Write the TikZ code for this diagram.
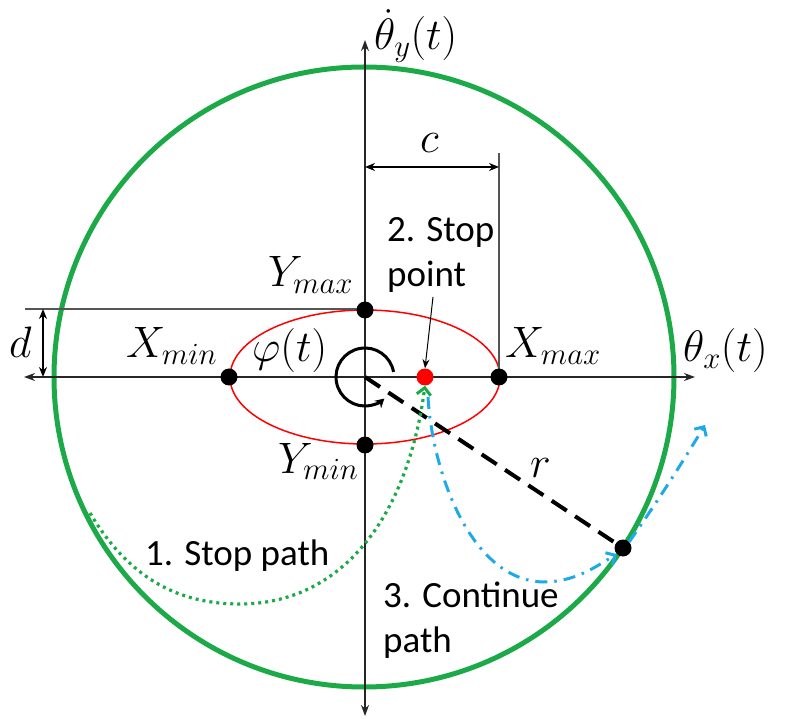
\RequirePackage{fix-cm}
\documentclass[tikz,border=0pt]{standalone}
\usepackage{fontspec}
\newfontfamily\lblfont{Carlito}
\usetikzlibrary{arrows.meta,calc}
\definecolor{cgreen}{RGB}{28,170,72}
\definecolor{cblue}{RGB}{30,170,230}
\definecolor{cgray}{RGB}{85,85,85}
\begin{document}
\begin{tikzpicture}[x=1pt,y=-1pt,
  axis/.style={draw=black!85, line width=1.6pt, {Stealth[length=11pt,width=8pt]}-{Stealth[length=11pt,width=8pt]}},
  guide/.style={draw=cgray, line width=1.6pt},
  dimarrow/.style={draw=black, line width=1.6pt, {Stealth[length=10pt,width=8pt]}-{Stealth[length=10pt,width=8pt]}},
  blackdot/.style={circle, fill=black, inner sep=0pt, minimum size=17pt},
  reddot/.style={circle, fill=red, inner sep=0pt, minimum size=17pt},
  mathlbl/.style={inner sep=0pt, anchor=base west, font=\fontsize{44}{50}\selectfont},
  txtlbl/.style={inner sep=0pt, anchor=base west, font=\lblfont\fontsize{37}{45}\selectfont},
  greenpath/.style={draw=cgreen, line width=3.2pt, dash pattern=on 3pt off 4pt, -{Straight Barb[length=7pt,width=14pt,line width=3pt]}},
  bluepath/.style={draw=cblue, line width=3pt, dash pattern=on 12pt off 7pt on 2.5pt off 7pt, -{Straight Barb[length=7pt,width=14pt,line width=3pt]}}
]
\useasboundingbox (0,0) rectangle (785,719);

% coordinates
\coordinate (O) at (365,377);
\coordinate (axL) at (24,377);
\coordinate (axR) at (695,377);
\coordinate (axT) at (365,40);
\coordinate (axB) at (365,716);

% green circle and red ellipse
\draw[cgreen, line width=5pt] (364,377) circle[radius=310pt];
\draw[red, line width=1.5pt] (O) ellipse[x radius=135pt, y radius=67pt];

% guide lines
\coordinate (dL) at (25,309);
\coordinate (cT) at (499,153);
\draw[guide] (dL) -- (365,309);
\draw[guide] (cT) -- (499,377);

% axes
\draw[axis] (axL) -- (axR);
\draw[axis] (axT) -- (axB);

% dimension arrows
\coordinate (dA) at (43,309);
\coordinate (dB) at (43,377);
\draw[dimarrow] (dA) -- (dB);
\coordinate (cA) at (365,167);
\coordinate (cB) at (499,167);
\draw[dimarrow] (cA) -- (cB);

% radius
\node[blackdot] (P) at (623,548) {};
\draw[black, line width=4pt, dash pattern=on 18pt off 10pt] (O) -- (P.center);

% phi arrow
\draw[black, line width=3pt, -{Stealth[length=9pt,width=10pt]}] ($(O)+(10:29pt)$) arc[start angle=10, end angle=312, radius=29pt];

% points
\node[blackdot] (xmin) at (229,377) {};
\node[blackdot] (xmax) at (499,377) {};
\node[blackdot] (ymax) at (365,310) {};
\node[blackdot] (ymin) at (365,445) {};
\node[reddot] (sp) at (425,377) {};

% paths
\coordinate (gs) at (90,513);
\coordinate (gm) at (240,604);
\draw[greenpath] (gs) .. controls (130,580) and (180,604) .. (gm) .. controls (340,604) and (407,520) .. (sp.south);
\coordinate (bs) at (428,397);
\coordinate (bm) at (543,582);
\draw[bluepath] (bs) .. controls (432,470) and (470,580) .. (bm) .. controls (575,582) and (595,567) .. (P.south west);
\coordinate (be) at (705,425);
\draw[bluepath] (P.north east) .. controls (660,498) and (685,458) .. (be);

% stop point arrow
\coordinate (sa) at (433,297);
\draw[black, line width=1pt, -{Stealth[length=9pt,width=7pt]}] (sa) -- (sp.north);

% math labels
\node[mathlbl] (lthy) at (374,50) {$\dot\theta_y(t)$};
\node[mathlbl] (lthx) at (683,362) {$\theta_x(t)$};
\node[mathlbl] (lxmin) at (126,358) {$X_{min}$};
\node[mathlbl] (lxmax) at (505,358) {$X_{max}$};
\node[mathlbl] (lymax) at (268,287) {$Y_{max}$};
\node[mathlbl] (lymin) at (278,473) {$Y_{min}$};
\node[mathlbl] (lphi) at (252,362) {$\varphi(t)$};
\node[mathlbl] (ld) at (9,358) {$d$};
\node[mathlbl] (lc) at (420,153) {$c$};
\node[mathlbl] (lr) at (530,477) {$r$};

% text labels
\node[txtlbl] (t2a) at (387,242) {2. Stop};
\node[txtlbl] (t2b) at (387,287) {point};
\node[txtlbl] (t1) at (145,565) {1. Stop path};
\node[txtlbl] (t3a) at (383,607) {3. Continue};
\node[txtlbl] (t3b) at (383,652) {path};
\end{tikzpicture}
\end{document}
